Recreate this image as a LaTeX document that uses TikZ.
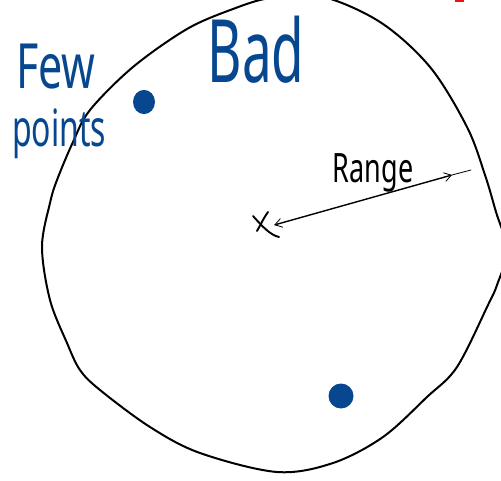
\documentclass[tikz,border=0pt]{standalone}
\usepackage{fontspec}
\usepackage{graphicx}
\setmainfont{Noto Sans}
\usetikzlibrary{arrows.meta}
\definecolor{inkblue}{RGB}{6,71,143}
\definecolor{inkred}{RGB}{230,20,20}
\tikzset{
  penline/.style={line width=2pt, line cap=round, line join=round, black},
  blueword/.style={inkblue, inner sep=0pt},
  blackword/.style={black, inner sep=0pt},
  rangearrow/.style={line width=1.4pt, line cap=round, {Straight Barb[length=7pt,width=9pt,line width=0.8pt]}-{Straight Barb[length=7pt,width=9pt,line width=0.8pt]}},
}
\begin{document}
\begin{tikzpicture}[x=1pt,y=-1pt]
\useasboundingbox (0,0) rectangle (501,481);
\clip (0,0) rectangle (501,481);
\fill[white] (0,0) rectangle (501,481);
% hand-drawn range boundary
\draw[penline] plot[smooth cycle, tension=0.55] coordinates {
 (187,29) (233,9) (270,-2) (320,-4) (380,22) (430,67) (467,127) (485,175)
 (496,212) (507,250) (497,285) (488,305) (457,367) (427,397) (383,437)
 (333,463) (277,472) (200,453) (150,427) (100,390) (80,370) (67,343)
 (50,300) (42,247) (50,203) (57,180) (73,142) (90,110) (133,67)};
% red mark at top edge
\fill[inkred] (455,-2) rectangle (464,2);
% labels
\node[blueword] (few) at (56,67) {\fontsize{43}{43}\selectfont\scalebox{1}[1.45]{Few}};
\node[blueword] (points) at (59,134) {\fontsize{32}{32}\selectfont\scalebox{1}[1.6]{points}};
\node[blueword] (bad) at (256,50) {\fontsize{53}{53}\selectfont\scalebox{1}[1.65]{Bad}};
\node[blackword] (range) at (373,173) {\fontsize{27}{27}\selectfont\scalebox{1}[1.5]{Range}};
% sample points
\node[fill=inkblue, circle, inner sep=0pt, minimum size=22pt, yscale=1.1] (ptA) at (144,102) {};
\node[fill=inkblue, circle, inner sep=0pt, minimum size=25pt] (ptB) at (341,396) {};
% centre cross
\node[inner sep=0pt, minimum size=16pt] (center) at (266,225) {};
\draw[line width=1.9pt, line cap=round] (253,216) .. controls (262,226) and (270,235) .. (279,237);
\draw[line width=1.9pt, line cap=round] (268,212) .. controls (263,219) and (260,226) .. (257,231);
% range arrow
\coordinate (rangehead) at (452,175);
\coordinate (rangeend) at (471,170);
\draw[rangearrow] (center.east) -- (rangehead);
\draw[line width=0.8pt, line cap=round] (rangehead) -- (rangeend);
\end{tikzpicture}
\end{document}
